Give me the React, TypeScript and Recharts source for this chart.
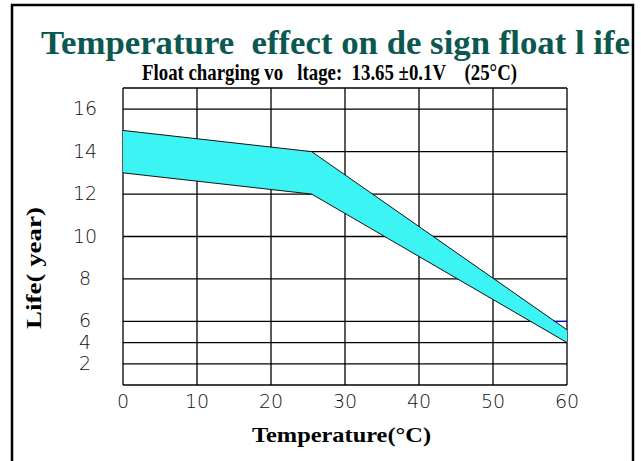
import {
  ComposedChart,
  Area,
  XAxis,
  YAxis,
  CartesianGrid,
  ReferenceLine,
} from "recharts";

const temps = [0, 25.5, 60];
const lifeLow = [13, 12, 4];
const lifeHigh = [15, 14, 5.2];
const xTicks = [0, 10, 20, 30, 40, 50, 60];
const yTicks = [2, 4, 6, 8, 10, 12, 14, 16];
const yMax = 17;
const markerLife = 6;
const markerFrom = 58.2;

// the original axis is squeezed to half scale below 6 years
const toAxis = (v: number) => (v <= 6 ? v / 2 : v - 3);
const fromAxis = (p: number) => (p <= 3 ? p * 2 : p + 3);

const data = temps.map((t, i) => ({
  t,
  band: [toAxis(lifeLow[i]), toAxis(lifeHigh[i])],
}));

const axisTicks = [0, ...yTicks.map(toAxis), toAxis(yMax)];

const tickFont = {
  fontFamily: "DejaVu Sans",
  fontWeight: 200,
  fontSize: 19,
  fill: "#111",
};

function YTick(props: any) {
  const { y, payload } = props;
  const p = payload.value;
  if (p === 0 || p === toAxis(yMax)) return <g />;
  return (
    <text x={85} y={y + 6} textAnchor="middle" {...tickFont}>
      {Math.round(fromAxis(p))}
    </text>
  );
}

function XTick(props: any) {
  const { x, y, payload } = props;
  return (
    <text x={x} y={y + 15} textAnchor="middle" {...tickFont}>
      {payload.value}
    </text>
  );
}

const serif = "'Liberation Serif', 'Times New Roman', serif";

export default function App() {
  return (
    <div style={{ position: "absolute", left: 0, top: 0, width: 641, height: 461, background: "#fff" }}>
      <ComposedChart
        width={641}
        height={461}
        data={data}
        margin={{ top: 88, right: 74, bottom: 46, left: 23 }}
      >
        <rect x={12} y={5} width={621} height={480} fill="none" stroke="#000" strokeWidth={2.5} />
        <CartesianGrid stroke="#000" strokeWidth={1.3} />
        <XAxis
          dataKey="t"
          type="number"
          domain={[0, 60]}
          ticks={xTicks}
          interval={0}
          height={30}
          axisLine={false}
          tickLine={false}
          tick={<XTick />}
        />
        <YAxis
          type="number"
          domain={[0, toAxis(yMax)]}
          ticks={axisTicks}
          interval={0}
          width={100}
          axisLine={false}
          tickLine={false}
          tick={<YTick />}
        />
        <Area
          type="linear"
          dataKey="band"
          stroke="#111"
          strokeWidth={1}
          fill="#3cf4f4"
          fillOpacity={1}
          dot={false}
          activeDot={false}
          isAnimationActive={false}
        />
        <ReferenceLine
          segment={[
            { x: markerFrom, y: toAxis(markerLife) },
            { x: 60, y: toAxis(markerLife) },
          ]}
          stroke="#0000ff"
          strokeWidth={1}
        />
        <text
          x={41}
          y={54}
          fontFamily={serif}
          fontWeight="bold"
          fontSize={34}
          fill="#0b5850"
          textLength={589}
          lengthAdjust="spacingAndGlyphs"
          style={{ whiteSpace: "pre" }}
        >
          Temperature  effect on de sign float l ife
        </text>
        <text
          x={142}
          y={80}
          fontFamily={serif}
          fontWeight="bold"
          fontSize={23}
          fill="#000"
          textLength={375}
          lengthAdjust="spacingAndGlyphs"
          style={{ whiteSpace: "pre" }}
        >
          Float charging vo   ltage:  13.65 ±0.1V    (25°C)
        </text>
        <text
          x={252}
          y={442}
          fontFamily={serif}
          fontWeight="bold"
          fontSize={22}
          fill="#000"
          textLength={179}
          lengthAdjust="spacingAndGlyphs"
        >
          Temperature(°C)
        </text>
        <text
          x={41}
          y={268}
          transform="rotate(-90 41 268)"
          textAnchor="middle"
          fontFamily={serif}
          fontWeight="bold"
          fontSize={22}
          fill="#000"
          textLength={122}
          lengthAdjust="spacingAndGlyphs"
          style={{ whiteSpace: "pre" }}
        >
          Life( year)
        </text>
      </ComposedChart>
    </div>
  );
}
